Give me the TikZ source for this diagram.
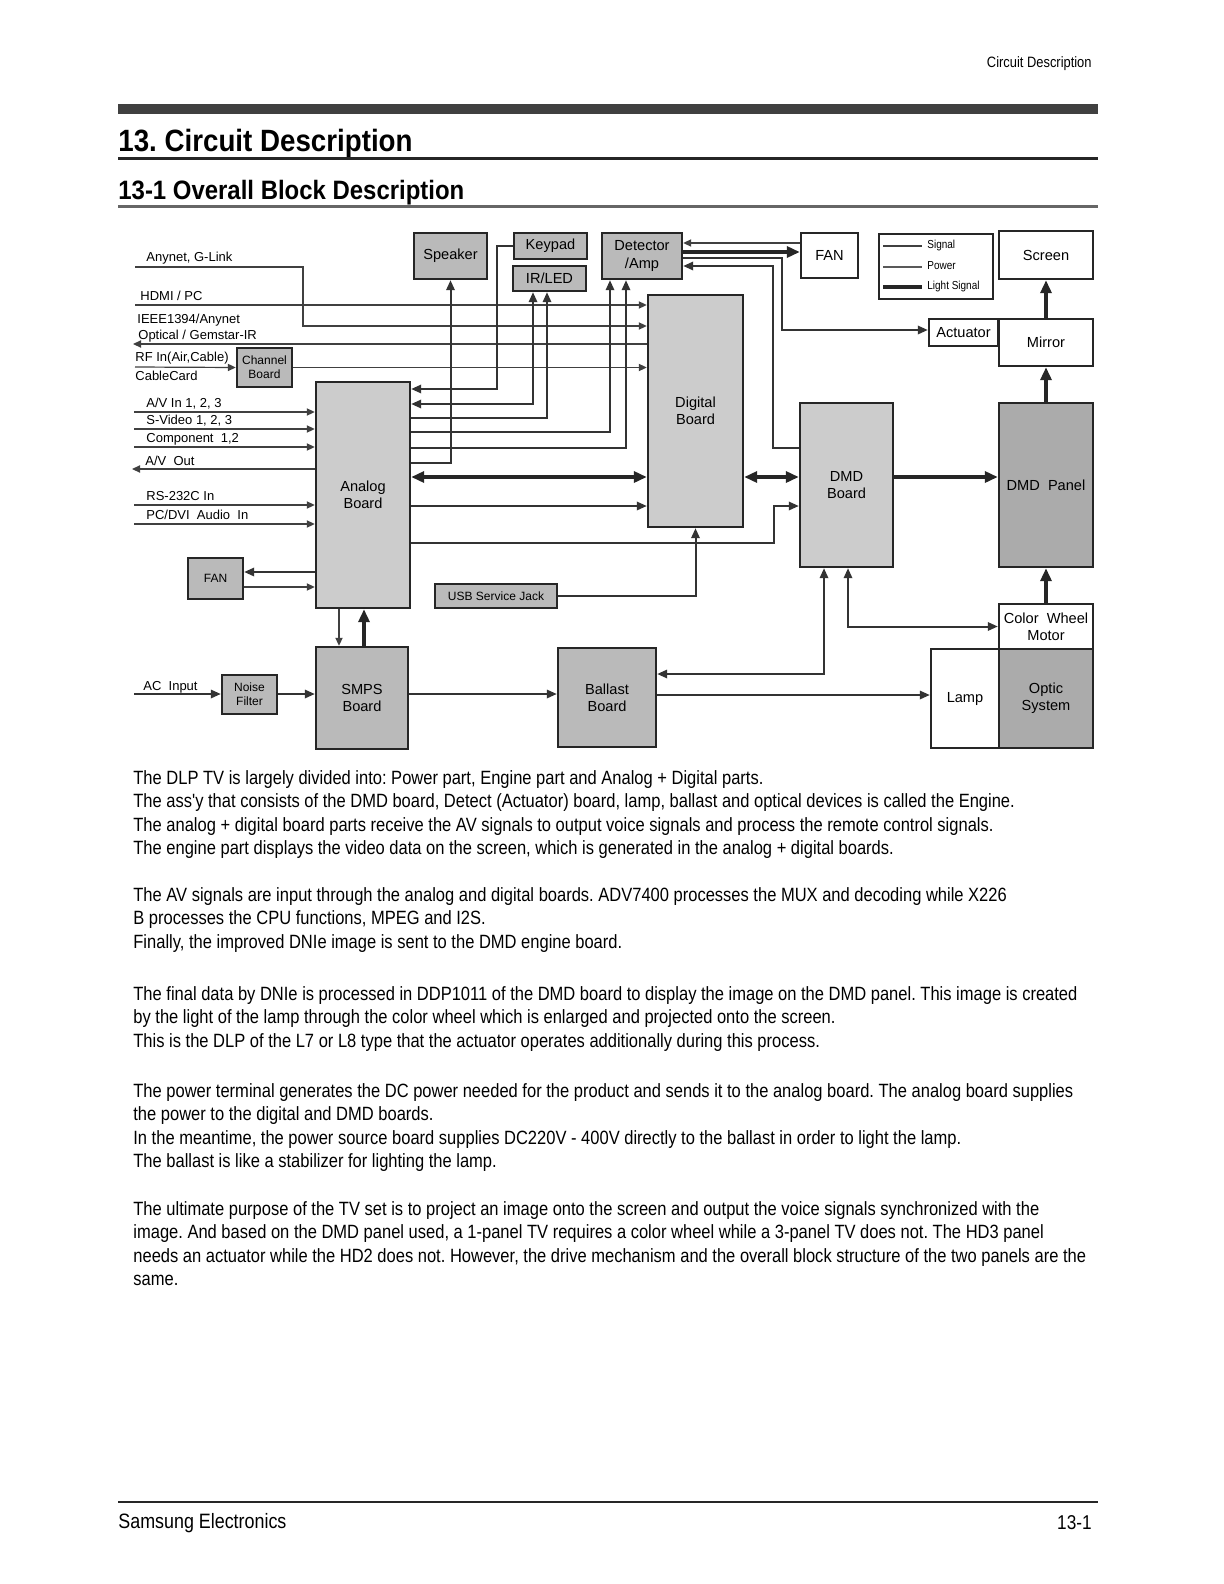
\documentclass[tikz,border=0pt]{standalone}
\usepackage{fontspec}
\setmainfont{Liberation Sans}
\newfontfamily\narrowfont[FakeStretch=0.86]{Liberation Sans}
\newfontfamily\headfont[FakeStretch=0.9]{Liberation Sans Bold}
\usetikzlibrary{arrows.meta}

\begin{document}
\frenchspacing
\begin{tikzpicture}[x=0.5pt, y=-0.5pt,
    every node/.style={inner sep=0pt, font=\fontsize{7.3}{8.6}\selectfont},
    box/.style={draw=black!85, line width=1.2pt, align=center},
    board/.style={box, fill=black!20},
    part/.style={box, fill=black!27},
    panel/.style={box, fill=black!33},
    blank/.style={box, fill=white},
    small/.style={font=\fontsize{6}{7}\selectfont},
    lbl/.style={font=\fontsize{6.5}{7.5}\selectfont},
    sig/.style={draw=black!75, line width=0.6pt, >={Triangle[length=4pt,width=3.6pt]}},
    pwr/.style={draw=black!80, line width=1pt, >={Triangle[length=5pt,width=4.2pt]}},
    lgt/.style={draw=black!85, line width=1.7pt, >={Triangle[length=6.5pt,width=5.5pt]}},
    body/.style={anchor=north west, align=left, font=\narrowfont\fontsize{9.6}{11.7}\selectfont}]
    \useasboundingbox (0,0) rectangle (1224,1584);

    % Page header
    \node[anchor=east, font=\narrowfont\fontsize{7.5}{9}\selectfont] (runhead) at (1092,64) {Circuit Description};
    \fill[black!75] (118,104) rectangle (1098,114);
    \node[anchor=base west, font=\headfont\fontsize{15.4}{18}\selectfont] (title) at (118,151) {13. Circuit Description};
    \fill[black!85] (118,157) rectangle (1098,160);
    \node[anchor=base west, font=\headfont\fontsize{13.3}{16}\selectfont] (subtitle) at (118,199) {13-1 Overall Block Description};
    \fill[black!60] (118,205) rectangle (1098,208);

    % Boards
    \node[board, minimum width=47pt, minimum height=113pt] (analog) at (363,495) {Analog\\Board};
    \node[board, minimum width=47.5pt, minimum height=116pt] (digital) at (695.5,411) {Digital\\Board};
    \node[board, minimum width=46.5pt, minimum height=82pt] (dmd) at (846.5,485) {DMD\\Board};
    \node[panel, minimum width=47pt, minimum height=82pt] (panel) at (1046,485) {DMD\ \ Panel};

    % Top row
    \node[part, minimum width=36.5pt, minimum height=23pt] (speaker) at (450.5,256) {Speaker};
    \node[part, minimum width=36.5pt, minimum height=13pt] (keypad) at (550.5,246) {Keypad};
    \node[part, minimum width=36.5pt, minimum height=12.5pt] (irled) at (549.5,278.5) {IR/LED};
    \node[part, minimum width=40pt, minimum height=23pt] (detector) at (642,256) {Detector\\/Amp};
    \node[blank, minimum width=28.5pt, minimum height=22.5pt] (fanr) at (829.5,255.5) {FAN};
    \node[blank, minimum width=47pt, minimum height=24pt] (screen) at (1046,255) {Screen};
    \node[blank, minimum width=34.5pt, minimum height=13.5pt] (actuator) at (963.5,332.5) {Actuator};
    \node[blank, minimum width=47pt, minimum height=23.5pt] (mirror) at (1046,342.5) {Mirror};

    % Legend
    \node[blank, minimum width=57pt, minimum height=32.5pt] (legend) at (936,266.5) {};
    \draw[sig, line width=1pt] (883,246) -- (922,246);
    \draw[pwr, black!65] (883,267) -- (922,267);
    \draw[lgt] (883,287) -- (922,287);
    \node[anchor=west, font=\narrowfont\fontsize{5.8}{7}\selectfont] (legsig) at (927,245) {Signal};
    \node[anchor=west, font=\narrowfont\fontsize{5.8}{7}\selectfont] (legpwr) at (927,266) {Power};
    \node[anchor=west, font=\narrowfont\fontsize{5.8}{7}\selectfont] (leglgt) at (927,286) {Light Signal};

    % Small boxes
    \node[part, small, minimum width=27.5pt, minimum height=19.5pt] (channel) at (264.5,367.5) {Channel\\Board};
    \node[part, small, minimum width=27.5pt, minimum height=20.5pt] (fanl) at (215.5,578.5) {FAN};
    \node[part, small, minimum width=61pt, minimum height=12pt] (usb) at (496,596) {USB Service Jack};
    \node[part, small, minimum width=27.5pt, minimum height=19.5pt] (noise) at (249.5,694.5) {Noise\\Filter};

    % Power and light path
    \node[part, minimum width=46pt, minimum height=51pt] (smps) at (362,698) {SMPS\\Board};
    \node[part, minimum width=49pt, minimum height=49.5pt] (ballast) at (607,697.5) {Ballast\\Board};
    \node[blank, minimum width=47pt, minimum height=22.5pt] (wheel) at (1046,626.5) {Color\ \ Wheel\\Motor};
    \node[blank, minimum width=34pt, minimum height=49.5pt] (lamp) at (965,698.5) {Lamp};
    \node[panel, minimum width=47pt, minimum height=49.5pt] (optic) at (1046,698.5) {Optic\\System};

    % Inputs to the digital board
    \coordinate (anynet) at (135,267);
    \coordinate (hdmi) at (135,305);
    \coordinate (ieee) at (133,344);
    \coordinate (rfin) at (135,367);
    \node[lbl, anchor=base west] (anynettxt) at (146,261) {Anynet, G-Link};
    \node[lbl, anchor=base west] (hdmitxt) at (140,300) {HDMI / PC};
    \node[lbl, anchor=base west] (ieeetxt) at (137,323) {IEEE1394/Anynet};
    \node[lbl, anchor=base west] (opttxt) at (138,339) {Optical / Gemstar-IR};
    \node[lbl, anchor=base west] (rftxt) at (135,361) {RF In(Air,Cable)};
    \node[lbl, anchor=base west] (cctxt) at (135,380) {CableCard};
    \draw[sig, ->] (anynet) -- (303,267) |- (digital.west |- 0,326);
    \draw[sig, ->] (hdmi) -- (digital.west |- hdmi);
    \draw[sig, ->] (digital.west |- ieee) -- (ieee);
    \draw[sig, ->] (rfin) -- (channel.west);
    \draw[sig, ->] (channel.east) -- (digital.west |- channel.east);

    % Inputs to the analog board
    \foreach \n/\y/\txt in {avin/412/{A/V In 1, 2, 3}, svid/429/{S-Video 1, 2, 3}, comp/447/{Component\ \ 1,2}, rs/505/{RS-232C In}, pcdvi/524/{PC/DVI\ \ Audio\ \ In}} {
        \coordinate (\n) at (134,\y);
        \node[lbl, anchor=base west] (\n txt) at (146,\y-4.5) {\txt};
        \draw[sig, ->] (\n) -- (analog.west |- \n);
    }
    \coordinate (avout) at (132,469);
    \node[lbl, anchor=base west] (avouttxt) at (145,465) {A/V\ \ Out};
    \draw[sig, ->] (analog.west |- avout) -- (avout);

    % Analog board to the top row
    \draw[pwr, ->] (analog.east |- 0,463) -| (speaker.south);
    \draw[pwr, ->] (keypad.west) -| (497,389) -- (analog.east |- 0,389);
    \draw[pwr, <->] (analog.east |- 0,404) -| (533,0 |- irled.south);
    \draw[pwr, ->] (analog.east |- 0,418) -| (547,0 |- irled.south);
    \draw[pwr, ->] (analog.east |- 0,432) -| (610,0 |- detector.south);
    \draw[pwr, ->] (analog.east |- 0,448) -| (626,0 |- detector.south);

    % Analog, digital and DMD boards
    \draw[lgt, <->] (analog.east |- 0,477) -- (digital.west |- 0,477);
    \draw[pwr, ->] (analog.east |- 0,506) -- (digital.west |- 0,506);
    \draw[pwr, ->] (analog.east |- 0,543) -| (774,506) -- (dmd.west |- 0,506);
    \draw[pwr, ->] (usb.east) -| (digital.south);
    \draw[lgt, <->] (digital.east |- 0,477) -- (dmd.west |- 0,477);
    \draw[lgt, ->] (dmd.east |- 0,477) -- (panel.west |- 0,477);

    % Detector, fan and actuator
    \draw[sig, ->] (fanr.west |- 0,243) -- (detector.east |- 0,243);
    \draw[lgt, ->] (detector.east |- 0,252) -- (fanr.west |- 0,252);
    \draw[pwr, ->] (detector.east |- 0,258) -| (782,330) -- (actuator.west |- 0,330);
    \draw[pwr, ->] (dmd.west |- 0,448) -| (773,266) -- (detector.east |- 0,266);

    % Optical path
    \draw[lgt, ->] (panel.north) -- (mirror.south);
    \draw[lgt, ->] (mirror.north) -- (screen.south);
    \draw[lgt, ->] (wheel.north) -- (panel.south);
    \draw[pwr, <->] (824,0 |- dmd.south) |- (ballast.east |- 0,674);
    \draw[pwr, <->] (848,0 |- dmd.south) |- (wheel.west);
    \draw[pwr, ->] (ballast.east |- 0,695) -- (lamp.west |- 0,695);

    % Power supply
    \coordinate (acin) at (134,694);
    \node[lbl, anchor=base west] (acintxt) at (143,690) {AC\ \ Input};
    \draw[pwr, ->] (acin) -- (noise.west |- acin);
    \draw[pwr, ->] (noise.east |- acin) -- (smps.west |- acin);
    \draw[pwr, ->] (smps.east |- acin) -- (ballast.west |- acin);
    \draw[lgt, ->] (364,0 |- smps.north) -- (364,0 |- analog.south);
    \draw[sig, ->] (339,0 |- analog.south) -- (339,0 |- smps.north);
    \draw[pwr, ->] (analog.west |- 0,572) -- (fanl.east |- 0,572);
    \draw[sig, ->] (fanl.east |- 0,587) -- (analog.west |- 0,587);

    % Description text
    \node[body] (para1) at (133,770) {The DLP TV is largely divided into: Power part, Engine part and Analog + Digital parts.\\
        The ass'y that consists of the DMD board, Detect (Actuator) board, lamp, ballast and optical devices is called the Engine.\\
        The analog + digital board parts receive the AV signals to output voice signals and process the remote control signals.\\
        The engine part displays the video data on the screen, which is generated in the analog + digital boards.};
    \node[body] (para2) at (133,887) {The AV signals are input through the analog and digital boards. ADV7400 processes the MUX and decoding while X226\\
        B processes the CPU functions, MPEG and I2S.\\
        Finally, the improved DNIe image is sent to the DMD engine board.};
    \node[body] (para3) at (133,986) {The final data by DNIe is processed in DDP1011 of the DMD board to display the image on the DMD panel. This image is created\\
        by the light of the lamp through the color wheel which is enlarged and projected onto the screen.\\
        This is the DLP of the L7 or L8 type that the actuator operates additionally during this process.};
    \node[body] (para4) at (133,1083) {The power terminal generates the DC power needed for the product and sends it to the analog board. The analog board supplies\\
        the power to the digital and DMD boards.\\
        In the meantime, the power source board supplies DC220V - 400V directly to the ballast in order to light the lamp.\\
        The ballast is like a stabilizer for lighting the lamp.};
    \node[body] (para5) at (133,1201) {The ultimate purpose of the TV set is to project an image onto the screen and output the voice signals synchronized with the\\
        image. And based on the DMD panel used, a 1-panel TV requires a color wheel while a 3-panel TV does not. The HD3 panel\\
        needs an actuator while the HD2 does not. However, the drive mechanism and the overall block structure of the two panels are the\\
        same.};

    % Page footer
    \fill[black!85] (118,1501) rectangle (1098,1503);
    \node[anchor=west, font=\narrowfont\fontsize{10.4}{12}\selectfont] (company) at (118,1523) {Samsung Electronics};
    \node[anchor=east, font=\narrowfont\fontsize{10}{12}\selectfont] (pageno) at (1092,1523) {13-1};
\end{tikzpicture}
\end{document}
